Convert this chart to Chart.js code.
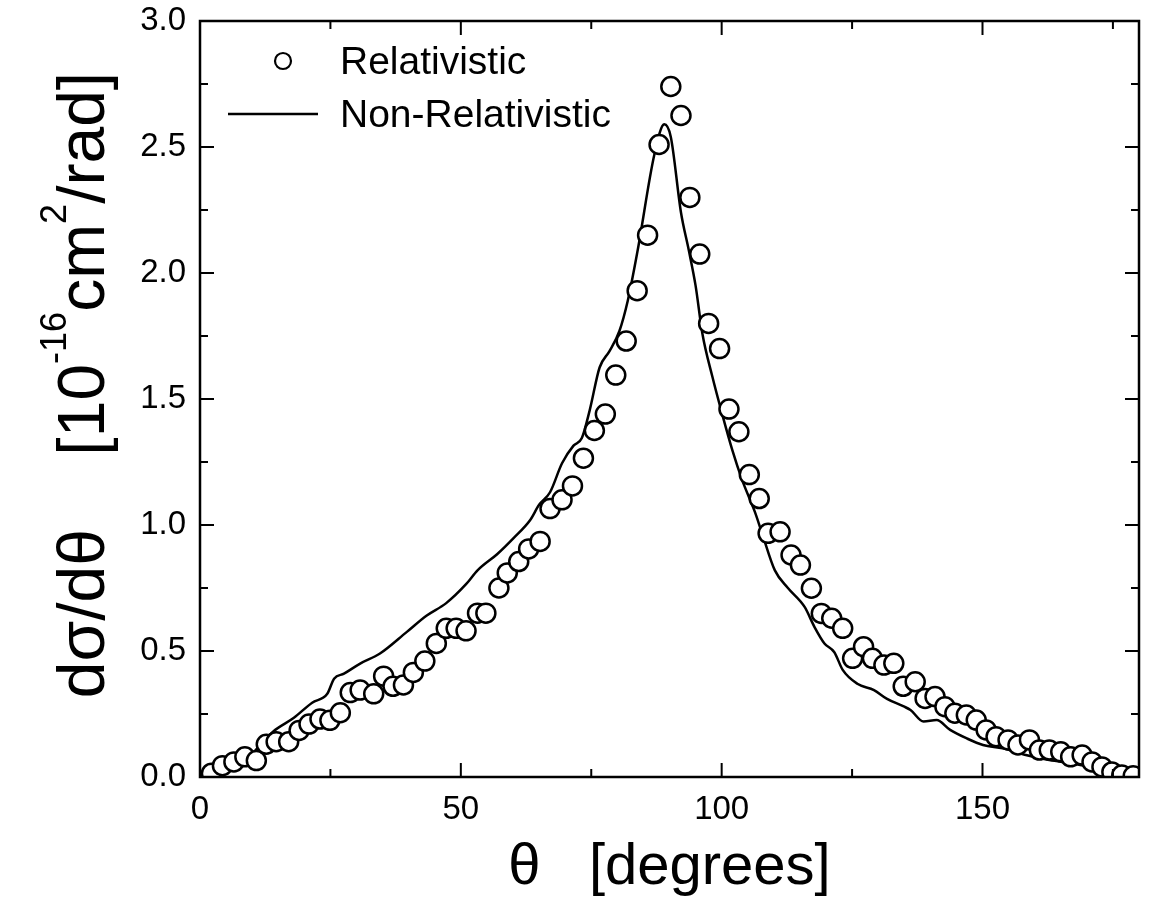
<!DOCTYPE html>
<html>
<head>
<meta charset="utf-8">
<script src="https://cdn.jsdelivr.net/npm/chart.js@4.4.1/dist/chart.umd.min.js"></script>
<style>html,body{margin:0;background:#fff}</style>
</head>
<body>
<canvas id="myChart" width="1151" height="912"></canvas>
<script>
// relativistic (circles)
const relTheta = [2.2, 4.3, 6.5, 8.6, 10.8, 12.7, 14.6, 17.0, 19.0, 20.9, 23.0, 24.9, 26.9, 28.8, 30.7, 33.3, 35.2, 37.0, 39.0, 40.9,
    43.1, 45.3, 47.2, 49.1, 51.0, 53.2, 54.8, 57.3, 58.9, 61.1, 63.0, 65.2, 67.1, 69.4, 71.4, 73.5, 75.6, 77.7, 79.7, 81.7,
    83.8, 85.8, 88.0, 90.25, 92.2, 93.9, 95.8, 97.5, 99.6, 101.4, 103.3, 105.3, 107.2, 108.9, 111.2, 113.3, 115.1, 117.2, 119.1, 121.1,
    123.2, 125.1, 127.2, 128.9, 131.1, 133.0, 134.8, 137.1, 139.0, 140.9, 142.8, 144.7, 146.9, 148.8, 150.7, 152.6, 154.9, 156.8, 159.0, 160.9,
    162.8, 165.0, 166.9, 169.1, 171.0, 172.9, 174.8, 176.7, 178.9];
const relValue = [0.015, 0.045, 0.06, 0.08, 0.065, 0.13, 0.14, 0.14, 0.185, 0.21, 0.23, 0.225, 0.255, 0.335, 0.345, 0.33, 0.40, 0.36, 0.365, 0.415,
    0.46, 0.53, 0.59, 0.59, 0.58, 0.65, 0.65, 0.75, 0.81, 0.855, 0.905, 0.935, 1.065, 1.10, 1.155, 1.265, 1.375, 1.44, 1.595, 1.73,
    1.93, 2.15, 2.51, 2.74, 2.625, 2.30, 2.075, 1.80, 1.70, 1.46, 1.37, 1.20, 1.105, 0.967, 0.973, 0.881, 0.841, 0.749, 0.649, 0.63,
    0.59, 0.471, 0.517, 0.471, 0.444, 0.451, 0.36, 0.378, 0.312, 0.319, 0.279, 0.253, 0.246, 0.226, 0.187, 0.16, 0.147, 0.127, 0.147, 0.107,
    0.107, 0.10, 0.08, 0.087, 0.06, 0.04, 0.02, 0.008, 0.005];

// non-relativistic (solid line)
const nonRelTheta = [0, 2, 5, 8.5, 11, 14, 18, 21.5, 24.4, 25.7, 27.6, 30.7, 34.5, 39.6, 43.4, 47.2, 51, 53.2, 57, 60.2,
    63.3, 65, 67.1, 69.4, 71.6, 73.2, 74.7, 76.6, 78.5, 80.4, 82.0, 83.9, 87.1, 89.0, 90.25, 92.2, 93.7, 95.0, 96.3, 98.2,
    100.1, 102.0, 103.9, 106.4, 107.7, 110.2, 112.7, 115.9, 117.8, 119.7, 121.6, 123.2, 126.0, 129.2, 131.7, 134.9, 136.2, 138.7, 141.2, 143.8,
    146.9, 150.1, 153.9, 158.3, 162.8, 167.2, 172.3, 177.3, 180];
const nonRelValue = [0.0, 0.01, 0.025, 0.055, 0.115, 0.18, 0.235, 0.295, 0.33, 0.39, 0.41, 0.45, 0.49, 0.575, 0.64, 0.69, 0.765, 0.82, 0.885, 0.95,
    1.02, 1.08, 1.13, 1.245, 1.315, 1.345, 1.455, 1.625, 1.69, 1.77, 1.89, 2.09, 2.47, 2.59, 2.54, 2.24, 2.09, 1.95, 1.76, 1.59,
    1.44, 1.30, 1.18, 1.05, 0.97, 0.82, 0.75, 0.675, 0.595, 0.53, 0.495, 0.425, 0.37, 0.345, 0.31, 0.28, 0.266, 0.22, 0.226, 0.187,
    0.154, 0.127, 0.114, 0.087, 0.067, 0.054, 0.035, 0.02, 0.01];

const xTicks = [0, 50, 100, 150];
const yTicks = [0, 0.5, 1.0, 1.5, 2.0, 2.5, 3.0];

const FONT = "'Liberation Sans', Arial, Helvetica, sans-serif";

// box frame with inward ticks on all four sides
const frame = {
    id: 'frame',
    afterDatasetsDraw(chart) {
        const {ctx, chartArea: a, scales: {x, y}} = chart;
        ctx.save();
        ctx.strokeStyle = '#000';
        ctx.lineWidth = 2.5;
        ctx.strokeRect(a.left, a.top, a.right - a.left, a.bottom - a.top);
        ctx.lineWidth = 2;
        ctx.beginPath();
        for (let v = 0; v <= 180; v += 25) {
            const px = x.getPixelForValue(v);
            const len = v % 50 === 0 ? 14 : 8;
            ctx.moveTo(px, a.bottom); ctx.lineTo(px, a.bottom - len);
            ctx.moveTo(px, a.top); ctx.lineTo(px, a.top + len);
        }
        for (let i = 0; i <= 12; i++) {
            const py = y.getPixelForValue(i * 0.25);
            const len = i % 2 === 0 ? 14 : 8;
            ctx.moveTo(a.left, py); ctx.lineTo(a.left + len, py);
            ctx.moveTo(a.right, py); ctx.lineTo(a.right - len, py);
        }
        ctx.stroke();
        ctx.restore();
    }
};

// legend in the top-left corner of the plot, and the y title with superscripts
const extras = {
    id: 'extras',
    afterDraw(chart) {
        const {ctx, chartArea: a} = chart;
        const [line, rel] = chart.data.datasets;
        ctx.save();
        ctx.font = '39px ' + FONT;
        ctx.textBaseline = 'middle';
        ctx.textAlign = 'left';

        ctx.beginPath();
        ctx.arc(a.left + 83, a.top + 40, 8, 0, Math.PI * 2);
        ctx.fillStyle = '#fff';
        ctx.fill();
        ctx.lineWidth = 2.2;
        ctx.strokeStyle = rel.borderColor;
        ctx.stroke();
        ctx.fillStyle = '#000';
        ctx.fillText(rel.label, a.left + 140, a.top + 42);

        ctx.beginPath();
        ctx.moveTo(a.left + 28, a.top + 93);
        ctx.lineTo(a.left + 118, a.top + 93);
        ctx.lineWidth = line.borderWidth;
        ctx.strokeStyle = line.borderColor;
        ctx.stroke();
        ctx.fillText(line.label, a.left + 140, a.top + 95);

        // rotated y title
        const parts = [
            ['dσ/dθ    [10', 66, 0],
            ['-16', 36, -38],
            ['cm', 66, 0],
            ['2', 36, -38],
            ['/rad]', 66, 0]
        ];
        ctx.translate(104, (a.top + a.bottom) / 2 - 14);
        ctx.rotate(-Math.PI / 2);
        ctx.textBaseline = 'alphabetic';
        let total = 0;
        parts.forEach(p => { ctx.font = p[1] + 'px ' + FONT; total += ctx.measureText(p[0]).width; });
        let pos = -total / 2;
        parts.forEach(p => {
            ctx.font = p[1] + 'px ' + FONT;
            ctx.fillText(p[0], pos, p[2]);
            pos += ctx.measureText(p[0]).width;
        });
        ctx.restore();
    }
};

const ctx = document.getElementById('myChart').getContext('2d');
new Chart(ctx, {
    type: 'line',
    data: {
        datasets: [
            {
                label: 'Non-Relativistic',
                data: nonRelTheta.map((t, i) => ({x: t, y: nonRelValue[i]})),
                borderColor: '#000',
                borderWidth: 2.5,
                pointRadius: 0,
                cubicInterpolationMode: 'monotone',
                fill: false,
                order: 2
            },
            {
                label: 'Relativistic',
                data: relTheta.map((t, i) => ({x: t, y: relValue[i]})),
                showLine: false,
                pointStyle: 'circle',
                pointRadius: 9.5,
                pointBorderWidth: 2.5,
                borderColor: '#000',
                pointBackgroundColor: '#fff',
                backgroundColor: '#fff',
                order: 1
            }
        ]
    },
    options: {
        responsive: false,
        animation: false,
        layout: {padding: {top: 21, right: 3, left: 0, bottom: 0}},
        plugins: {legend: {display: false}, tooltip: {enabled: false}},
        scales: {
            x: {
                type: 'linear',
                min: 0,
                max: 180,
                grid: {display: false, drawTicks: false},
                border: {display: false},
                afterBuildTicks: s => { s.ticks = xTicks.map(v => ({value: v})); },
                afterFit: s => { s.height = 135; s.paddingLeft = 0; s.paddingRight = 0; },
                ticks: {
                    padding: 13,
                    color: '#000',
                    font: {family: FONT, size: 33},
                    maxRotation: 0
                },
                title: {
                    display: true,
                    text: 'θ   [degrees]',
                    color: '#000',
                    font: {family: FONT, size: 58},
                    padding: {top: 0, bottom: 9}
                }
            },
            y: {
                type: 'linear',
                min: 0,
                max: 3,
                grid: {display: false, drawTicks: false},
                border: {display: false},
                afterBuildTicks: s => { s.ticks = yTicks.map(v => ({value: v})); },
                afterFit: s => { s.width = 200; s.paddingTop = 0; s.paddingBottom = 0; },
                ticks: {
                    padding: 14,
                    color: '#000',
                    font: {family: FONT, size: 33},
                    callback: v => v.toFixed(1)
                }
            }
        }
    },
    plugins: [frame, extras]
});
</script>
</body>
</html>
